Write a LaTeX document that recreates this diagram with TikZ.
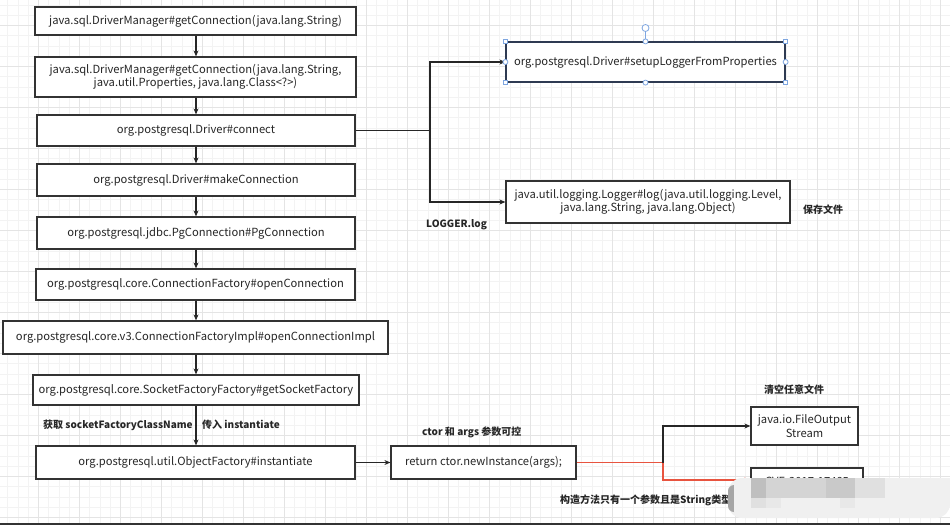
\documentclass[tikz,border=0pt]{standalone}
\usepackage{fontspec}
\setmainfont{Noto Sans CJK SC}
\usetikzlibrary{arrows.meta}
\definecolor{minorgrid}{HTML}{F3F3F3}
\definecolor{majorgrid}{HTML}{E4E4E4}
\definecolor{boxline}{HTML}{333333}
\definecolor{selline}{HTML}{2E3A52}
\definecolor{handle}{HTML}{7EA6E0}
\definecolor{redline}{HTML}{E8543F}
\tikzset{
  box/.style={draw=boxline, line width=1.2pt, fill=white, inner sep=1pt, align=center, font=\fontsize{11.2}{13.5}\selectfont, text=black!85},
  arr/.style={draw=black!85, line width=1.1pt, -{Stealth[length=6pt,width=5pt]}},
  plain/.style={draw=black!85, line width=1.1pt},
  redarr/.style={draw=redline, line width=1.1pt, -{Stealth[length=6pt,width=5pt]}},
  lbl/.style={font=\fontsize{10}{12}\selectfont\bfseries, text=black!85, inner sep=0pt},
  sq/.style={draw=handle, fill=white, line width=0.8pt, minimum size=4.5pt, inner sep=0pt, rectangle},
  ci/.style={draw=handle, fill=white, line width=0.8pt, minimum size=5pt, inner sep=0pt, circle}
}
\begin{document}
\begin{tikzpicture}[x=1pt,y=-1pt]
\useasboundingbox (0,0) rectangle (950,525);
% grid
\foreach \i in {0,...,92} {\draw[minorgrid, line width=0.6pt] (7.55+10.25*\i,0) -- (7.55+10.25*\i,525);}
\foreach \i in {0,...,51} {\draw[minorgrid, line width=0.6pt] (0,4.8+10.25*\i) -- (950,4.8+10.25*\i);}
\foreach \i in {0,...,22} {\draw[majorgrid, line width=0.8pt] (38.3+41*\i,0) -- (38.3+41*\i,525);}
\foreach \i in {0,...,12} {\draw[majorgrid, line width=0.8pt] (0,25.3+41*\i) -- (950,25.3+41*\i);}
\draw[black!80, line width=2pt] (0,524.2) -- (950,524.2);

% left column
\node[box, minimum width=321pt, minimum height=28pt] (b1) at (195.5,21) {java.sql.DriverManager\#getConnection(java.lang.String)};
\node[box, minimum width=321pt, minimum height=40pt] (b2) at (195.5,77) {java.sql.DriverManager\#getConnection(java.lang.String,\\java.util.Properties, java.lang.Class<?>)};
\node[box, minimum width=318pt, minimum height=31pt] (b3) at (196,130.5) {org.postgresql.Driver\#connect};
\node[box, minimum width=318pt, minimum height=32pt] (b4) at (196,180) {org.postgresql.Driver\#makeConnection};
\node[box, minimum width=318pt, minimum height=32pt] (b5) at (196,233) {org.postgresql.jdbc.PgConnection\#PgConnection};
\node[box, minimum width=319pt, minimum height=31pt] (b6) at (195.5,284.5) {org.postgresql.core.ConnectionFactory\#openConnection};
\node[box, minimum width=385pt, minimum height=33pt] (b7) at (195.5,337.5) {org.postgresql.core.v3.ConnectionFactoryImpl\#openConnectionImpl};
\node[box, minimum width=326pt, minimum height=30pt] (b8) at (196,390) {org.postgresql.core.SocketFactoryFactory\#getSocketFactory};
\node[box, minimum width=319pt, minimum height=33pt] (b9) at (195.5,462.5) {org.postgresql.util.ObjectFactory\#instantiate};

\foreach \a/\b in {b1/b2,b2/b3,b3/b4,b4/b5,b5/b6,b6/b7,b7/b8,b8/b9}
  {\draw[arr] (\a.south -| 196,0) -- (\b.north -| 196,0);}

% right upper
\node[box, draw=selline, minimum width=279pt, minimum height=40pt] (s1) at (645.5,62) {org.postgresql.Driver\#setupLoggerFromProperties};
\node[box, minimum width=284pt, minimum height=42pt] (l1) at (648,202) {java.util.logging.Logger\#log(java.util.logging.Level,\\java.lang.String, java.lang.Object)};
\coordinate (j1) at (430,130.5);
\draw[plain] (b3.east) -- (j1);
\draw[arr] (j1) |- (s1.west);
\draw[arr] (j1) |- (l1.west);

% selection handles
\coordinate (rot) at (645.5,28);
\draw[handle, line width=0.8pt] (s1.north) -- (rot);
\node[ci, minimum size=7pt] (rh) at (rot) {};
\foreach \p in {north west,north east,south west,south east} {\node[sq] at (s1.\p) {};}
\foreach \p in {north,south,east,west} {\node[ci] at (s1.\p) {};}

\node[lbl, anchor=west] (lg) at (426,225) {LOGGER.log};
\node[lbl, anchor=west] (sv) at (803,210) {保存文件};

% bottom right
\node[box, minimum width=185pt, minimum height=33pt] (r1) at (483.5,462.5) {return ctor.newInstance(args);};
\node[box, minimum width=107pt, minimum height=38pt] (f1) at (804.5,426) {java.io.FileOutput\\Stream};
\node[box, minimum width=112pt, minimum height=26pt] (c1) at (807,481) {CVE-2017-17485};
\draw[arr] (b9.east) -- (r1.west);
\coordinate (j2) at (663,462.5);
\draw[redline, line width=1.1pt] (r1.east) -- (j2);
\draw[arr] (j2) |- (f1.west);
\draw[redarr] (j2) |- (c1.west |- 0,480);

\node[lbl, anchor=west] (t1) at (43,425) {获取 socketFactoryClassName};
\node[lbl, anchor=west] (t2) at (202,425) {传入 instantiate};
\node[lbl, anchor=west] (t3) at (422,432) {ctor 和 args 参数可控};
\node[lbl, anchor=west] (t4) at (764,390) {清空任意文件};
\node[lbl, anchor=west] (t5) at (560,500) {构造方法只有一个参数且是String类型};

% blurred patch
\fill[black!6, rounded corners=14pt] (728,478) rectangle (950,518);
\fill[black!25] (751,478) rectangle (766,498);
\fill[black!17] (766,478) rectangle (826,498);
\fill[black!21] (826,478) rectangle (855,498);
\fill[black!12] (855,478) rectangle (885,498);
\fill[black!6] (885,478) rectangle (950,498);
\fill[black!12] (751,498) rectangle (766,508);
\fill[black!9] (766,498) rectangle (781,508);
\fill[black!9] (840,498) rectangle (855,508);
\fill[black!35, rounded corners=6pt] (728,485) rectangle (740,512);
\fill[black!6] (734,484) rectangle (751,512);
\end{tikzpicture}
\end{document}
